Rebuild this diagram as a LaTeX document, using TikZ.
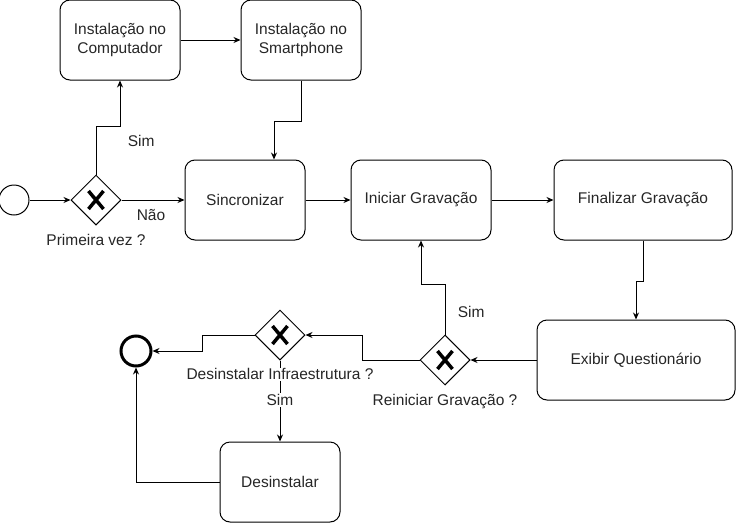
\documentclass[tikz,border=0pt]{standalone}
\usepackage{fontspec}
\setmainfont{Liberation Sans}
\usetikzlibrary{positioning,arrows.meta,shapes.geometric}

\tikzset{
  task/.style={draw, rounded corners=10pt, minimum width=120pt, minimum height=80pt, align=center, line width=1pt},
  gateway/.style={draw, diamond, aspect=1, minimum width=50pt, minimum height=50pt, inner sep=0pt, line width=1pt,
    path picture={
      \draw[line width=3.5pt] ([shift={(-7.5pt,9pt)}]path picture bounding box.center) -- ([shift={(7.5pt,-9pt)}]path picture bounding box.center);
      \draw[line width=3.5pt] ([shift={(-7.5pt,-9pt)}]path picture bounding box.center) -- ([shift={(7.5pt,9pt)}]path picture bounding box.center);
    }},
  startev/.style={draw, circle, minimum size=30pt, inner sep=0pt, line width=1pt},
  endev/.style={draw, circle, minimum size=30pt, inner sep=0pt, line width=3pt},
  flow/.style={-{Stealth[length=7pt,width=6pt]}, line width=1pt},
  question/.style={inner sep=1pt, fill=white},
}

\begin{document}
\begin{tikzpicture}[x=1pt, y=1pt, font=\fontsize{15.5}{18.5}\selectfont, text=black!85]

\useasboundingbox (0,0) rectangle (738,-522);

% nodes (main row first, the rest around it)
\node[task] (sync) at (245,-200) {Sincronizar};
\node[gateway] (first) at (96,-200) {};
\node[startev, left=41pt of first] (begin) {};
\node[task] (pc) at (120,-40) {Instalação no\\Computador};
\node[task, right=60pt of pc] (phone) {Instalação no\\Smartphone};
\node[task, minimum width=140pt, right=45pt of sync] (rec) {Iniciar Gravação};
\node[task, minimum width=178pt, right=62pt of rec] (stop) {Finalizar Gravação};
\node[task, minimum width=198pt] (quiz) at (636,-360) {Exibir Questionário};
\node[gateway, left=66pt of quiz] (again) {};
\node[gateway] (remove) at (280,-335) {};
\node[endev] (finish) at (136,-351) {};
\node[task, below=81pt of remove] (uninst) {Desinstalar};

% edges
\draw[flow] (begin) -- (first);
\draw[flow] (first.north) -- node[right=28pt, yshift=10pt] {Sim} ++(0,48) -| (pc.south);
\draw[flow] (first) -- (sync) node[midway, below=6pt, xshift=-2pt] {Não};
\draw[flow] (pc) -- (phone);
\draw[flow] (phone.south) -- ++(0,-41) -| ([xshift=29pt]sync.north);
\draw[flow] (sync) -- (rec);
\draw[flow] (rec) -- (stop);
\draw[flow] (stop.south) -- ++(0,-41) -| (quiz.north);
\draw[flow] (quiz) -- (again);
\draw[flow] (again.north) -- node[right=9pt, yshift=-2pt] {Sim} ++(0,50) -| (rec.south);
\draw[flow] (again.west) -- ++(-57,0) |- (remove.east);
\draw[flow] (remove.west) -- ++(-52,0) |- (finish.east);
\draw[flow] (remove.south) -- (uninst.north) node[midway, question, yshift=1pt] {Sim};
\draw[flow] (uninst.west) -| (finish.south);

% gateway questions
\node[question, below=8pt of first] (firstq) {Primeira vez ?};
\node[question, below=8pt of again] (againq) {Reiniciar Gravação ?};
\node[question, below=7pt of remove] (removeq) {Desinstalar Infraestrutura ?};

\end{tikzpicture}
\end{document}
